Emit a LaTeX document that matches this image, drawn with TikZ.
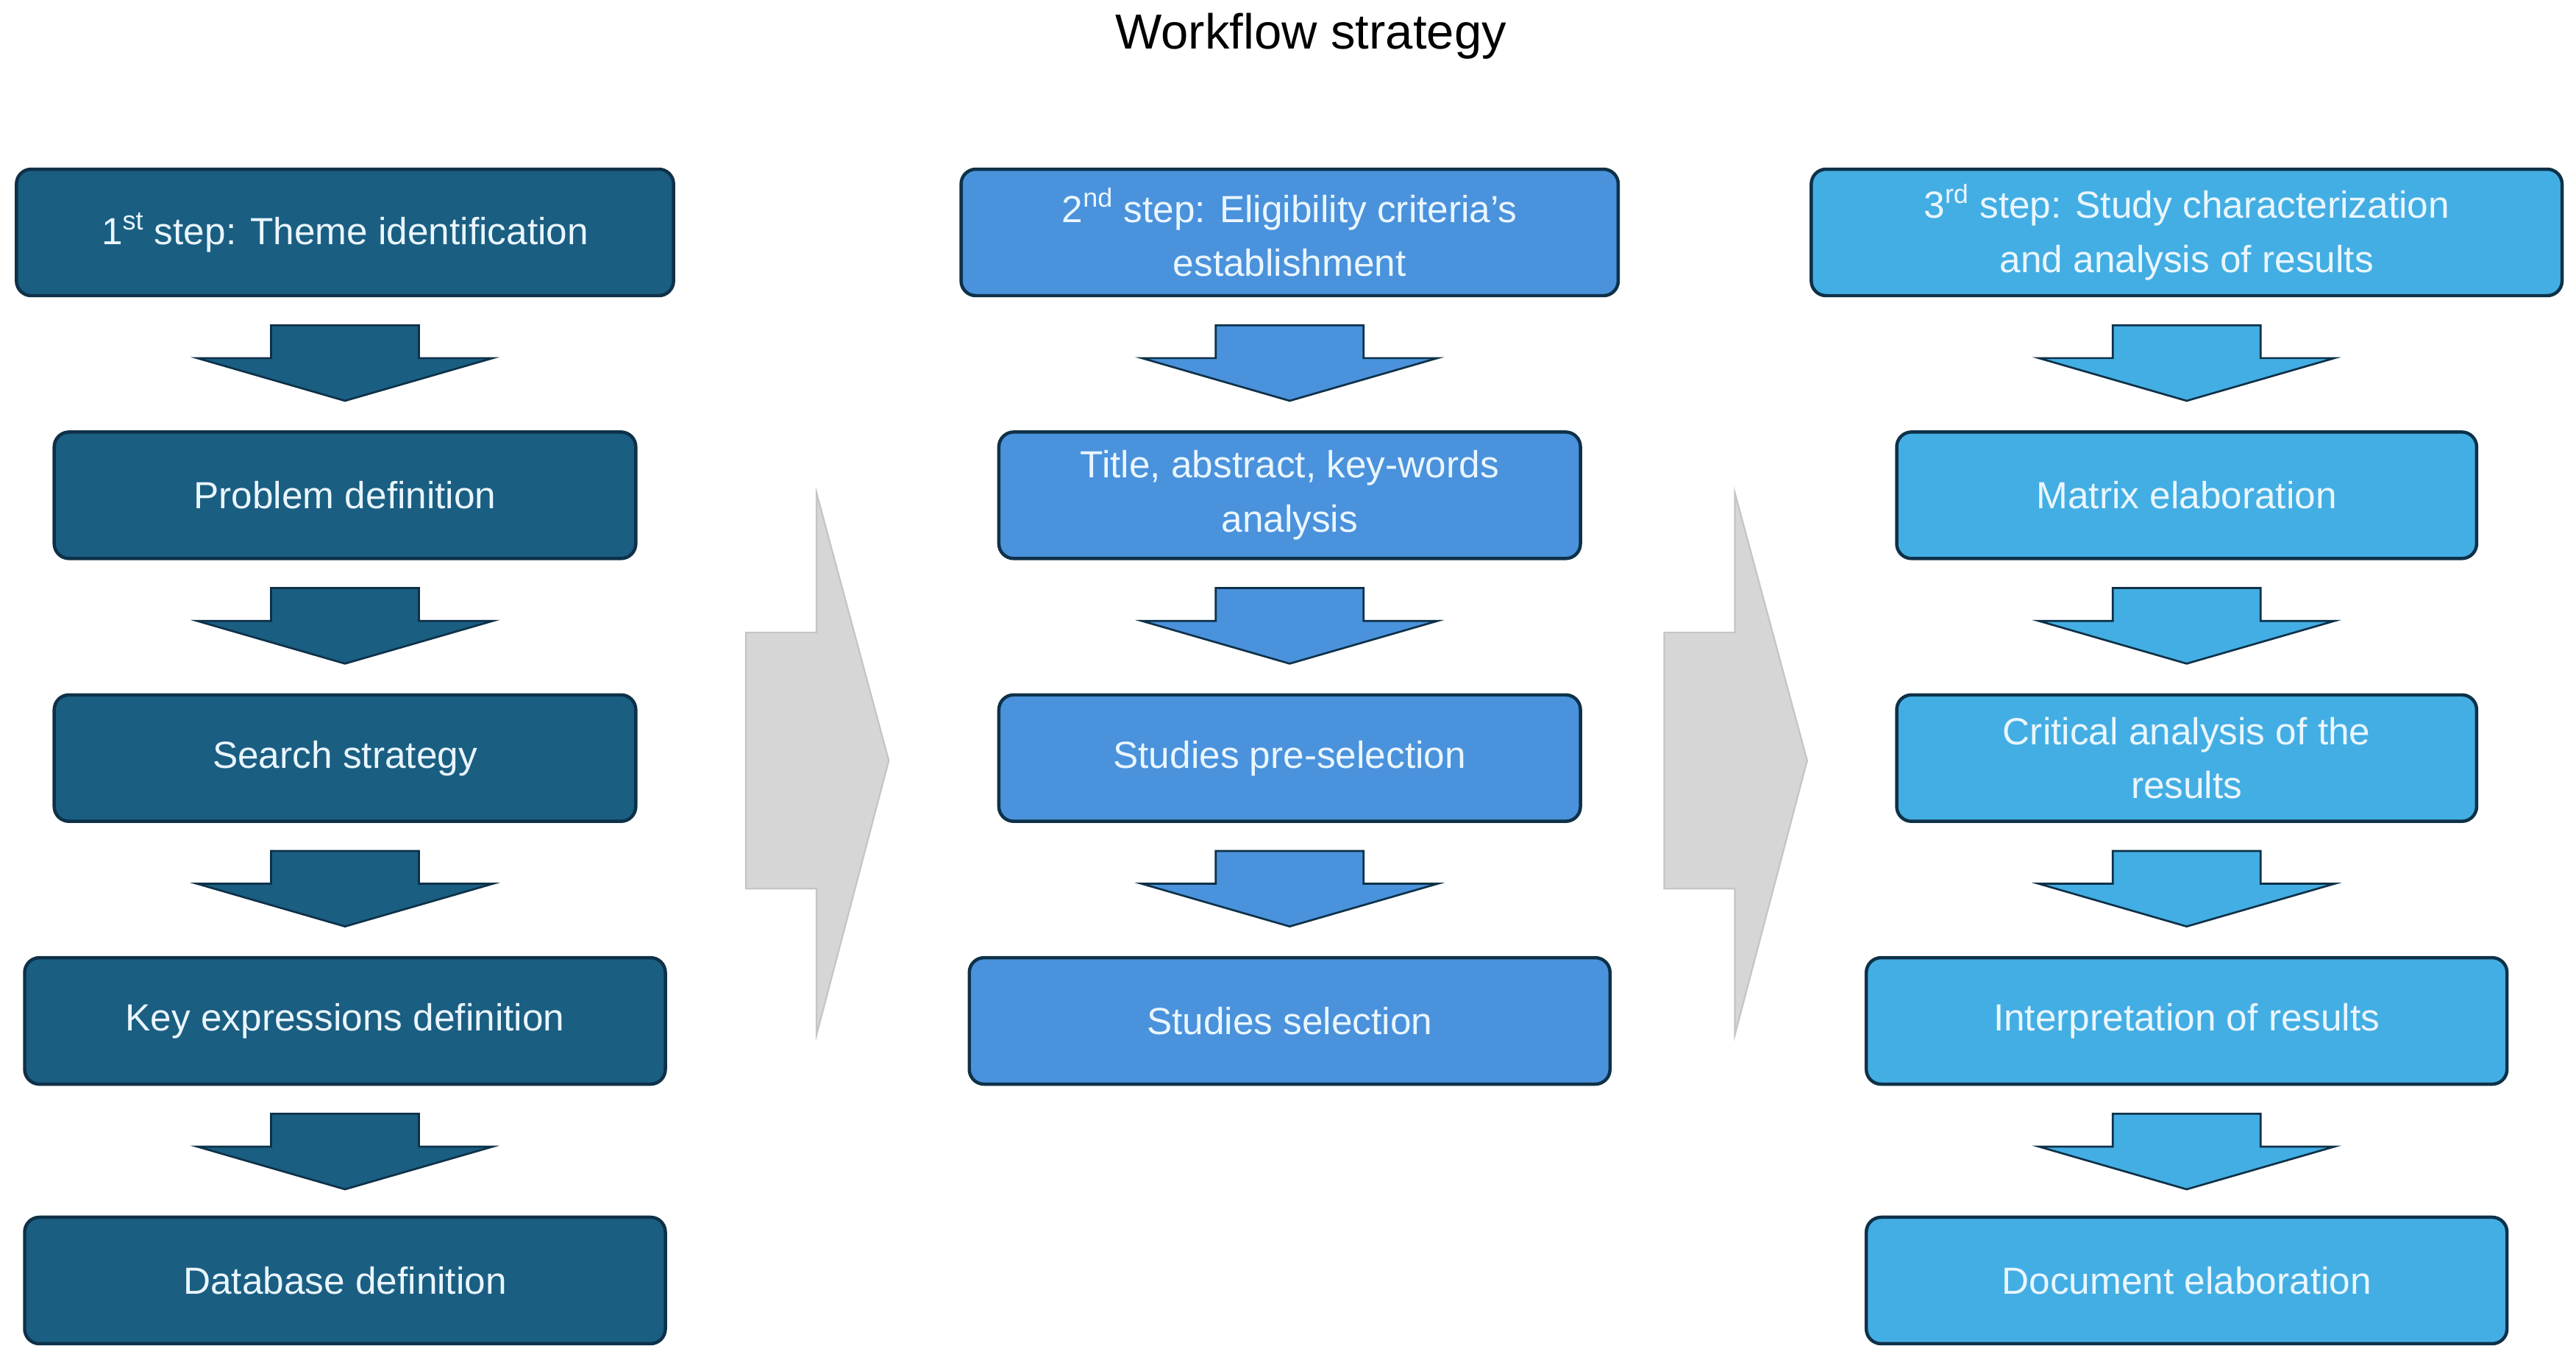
\documentclass[tikz,border=0pt]{standalone}
\usepackage{fontspec}
\setmainfont{Liberation Sans}
\begin{document}
\definecolor{c1}{HTML}{1A5E82}
\definecolor{c2}{HTML}{4A92DC}
\definecolor{c3}{HTML}{43AEE3}
\definecolor{bd}{HTML}{0E3148}
\definecolor{tx}{HTML}{EAF6FF}
\definecolor{gr}{HTML}{D6D6D6}
\begin{tikzpicture}[x=1pt,y=-1pt,
 box/.style={draw=bd,line width=2pt,rounded corners=9pt,text=tx,align=center,inner sep=0pt,font=\fontsize{23}{33}\selectfont},
 darr/.style={draw=bd,line width=1.2pt}]
\useasboundingbox (0,0) rectangle (1568,826);
\node[font=\fontsize{30}{34}\selectfont] (t) at (798,22) {Workflow strategy};
\newcommand\mybox[7]{\node[box,fill=#6,minimum width=#3,minimum height=77] (#1) at (#2,#4) {#5};}
% col1
\mybox{a1}{210}{400}{141.5}{1\textsuperscript{st} step: Theme identification}{c1}{}
\mybox{a2}{210}{354}{301.5}{Problem definition}{c1}{}
\mybox{a3}{210}{354}{461.5}{Search strategy}{c1}{}
\mybox{a4}{210}{390}{621.5}{Key expressions definition}{c1}{}
\mybox{a5}{210}{390}{779.5}{Database definition}{c1}{}
% col2
\mybox{b1}{785}{400}{141.5}{2\textsuperscript{nd} step: Eligibility criteria's\\establishment}{c2}{}
\mybox{b2}{785}{354}{301.5}{Title, abstract, key-words\\analysis}{c2}{}
\mybox{b3}{785}{354}{461.5}{Studies pre-selection}{c2}{}
\mybox{b4}{785}{390}{621.5}{Studies selection}{c2}{}
% col3
\mybox{c1n}{1331}{457}{141.5}{3\textsuperscript{rd} step: Study characterization\\and analysis of results}{c3}{}
\mybox{c2n}{1331}{353}{301.5}{Matrix elaboration}{c3}{}
\mybox{c3n}{1331}{353}{461.5}{Critical analysis of the\\results}{c3}{}
\mybox{c4n}{1331}{390}{621.5}{Interpretation of results}{c3}{}
\mybox{c5n}{1331}{390}{779.5}{Document elaboration}{c3}{}
% down arrows
\newcommand\dar[3]{\draw[darr,fill=#3] (#1-45,#2) -- (#1+45,#2) -- (#1+45,#2+20) -- (#1+90,#2+20) -- (#1,#2+46) -- (#1-90,#2+20) -- (#1-45,#2+20) -- cycle;}
\foreach \y in {198,358,518,678} {\dar{210}{\y}{c1}}
\foreach \y in {198,358,518} {\dar{785}{\y}{c2}}
\foreach \y in {198,358,518,678} {\dar{1331}{\y}{c3}}
% big gray arrows
\newcommand\gar[1]{\draw[gr!80!gray,fill=gr,line width=1pt] (#1,385) -- (#1+43,385) -- (#1+43,300) -- (#1+87,463) -- (#1+43,630) -- (#1+43,541) -- (#1,541) -- cycle;}
\gar{454}
\gar{1013}
\end{tikzpicture}
\end{document}
